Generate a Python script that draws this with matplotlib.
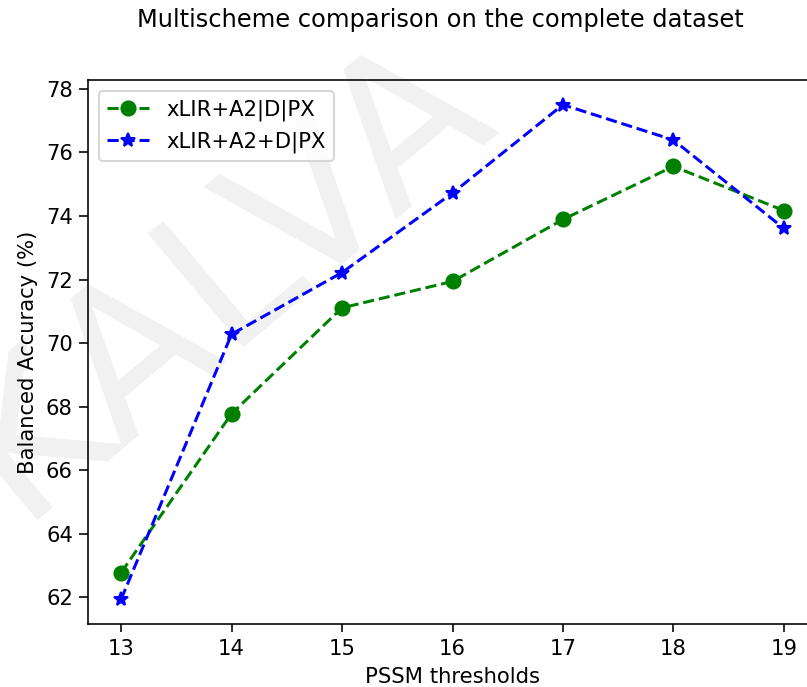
import matplotlib
matplotlib.use('Agg')
import matplotlib.pyplot as plt

thresholds = [13, 14, 15, 16, 17, 18, 19]
acc_a2_d_px = [62.78, 67.78, 71.11, 71.94, 73.89, 75.56, 74.17]
acc_a2plus_d_px = [61.94, 70.28, 72.22, 74.72, 77.50, 76.39, 73.61]
labels = ['xLIR+A2|D|PX', 'xLIR+A2+D|PX']

W, H, DPI = 807, 687, 145
plt.rcParams['font.size'] = 10.5
plt.rcParams['xtick.major.size'] = 4
plt.rcParams['ytick.major.size'] = 4.5
plt.rcParams['ytick.major.pad'] = 3

fig = plt.figure(figsize=(W / DPI, H / DPI), dpi=DPI)
# axes runs a bit past the right edge, as in the reference crop
ax = fig.add_axes([88 / W, 1 - 624 / H, (817 - 88) / W, (624 - 80) / H])
ax.patch.set_alpha(0)
ax.set_zorder(2)

# faint watermark behind the plot
fig.text(18 / W, 1 - 520 / H, 'KALVA', fontsize=101, color='#f1f1f1',
         rotation=40, rotation_mode='anchor', ha='left', va='baseline', zorder=0)

ax.plot(thresholds, acc_a2_d_px, 'go--', markersize=7, label=labels[0])
ax.plot(thresholds, acc_a2plus_d_px, 'b*--', markersize=7, label=labels[1])
ax.set_xlabel('PSSM thresholds')
ax.set_ylabel('Balanced Accuracy (%)')
ax.set_yticks([62, 64, 66, 68, 70, 72, 74, 76, 78])
ax.legend(loc='upper left')
fig.text(440 / W, 1 - 20 / H, 'Multischeme comparison on the complete dataset',
         ha='center', va='center', fontsize=12)
fig.savefig('out.png', dpi=DPI)
